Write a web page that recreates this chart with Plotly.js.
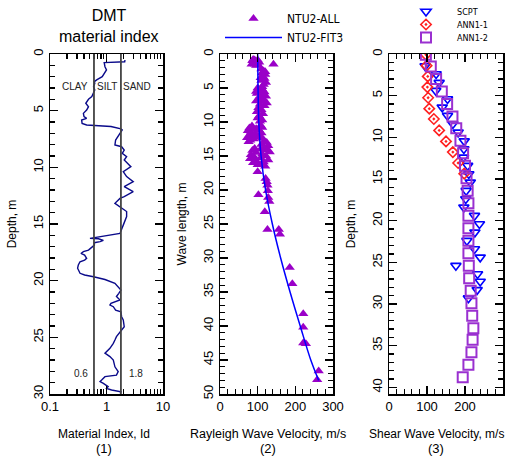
<!DOCTYPE html>
<html><head><meta charset="utf-8">
<script src="https://cdn.plot.ly/plotly-3.0.1.min.js"></script>
<style>html,body{margin:0;padding:0;background:#fff}</style>
</head><body><div id="chart" style="width:512px;height:456px"></div>
<script>
// Panel 1: DMT material index
const idDepth = [0.53,0.68,0.76,1.12,1.41,1.71,2.0,2.29,2.44,2.59,
 2.88,3.18,3.47,3.76,4.0,4.35,4.65,4.94,5.24,5.53,
 5.68,5.82,6.12,6.26,6.4,6.6,6.7,7.0,7.29,7.59,
 8.03,8.18,8.47,8.76,9.06,9.35,9.94,10.38,10.82,11.26,
 11.7,12.15,12.59,12.74,13.18,13.47,13.9,14.35,14.8,15.1,
 15.83,15.9,16.06,16.18,16.27,16.3,16.45,16.56,16.65,16.86,
 17.3,17.44,17.6,17.74,18.03,18.18,18.33,18.62,18.9,19.35,
 19.5,19.65,19.9,20.24,20.53,20.83,21.12,21.4,21.7,22.0,
 22.15,22.3,22.6,22.74,23.18,23.47,24.06,24.35,24.65,24.94,
 25.24,25.53,25.97,26.4,26.7,27.0,27.6,28.03,28.33,28.47,
 28.77,28.9,29.06,29.35,29.5,29.65,29.8,29.95];
const idValue = [2.12,2.1,0.91,0.94,1.0,0.91,0.84,0.67,0.61,0.62,
 0.59,0.62,0.59,0.55,0.48,0.43,0.48,0.445,0.39,0.40,
 0.445,0.363,0.37,0.445,1.2,1.8,1.9,1.73,1.57,1.45,
 1.41,1.85,2.06,1.9,2.27,2.06,2.70,1.98,2.27,2.97,
 2.06,2.97,2.06,1.73,1.41,1.73,2.27,2.27,2.06,1.98,
 1.73,1.41,0.94,0.62,0.51,0.72,0.88,0.77,0.61,0.61,
 0.48,0.39,0.353,0.41,0.445,0.41,0.34,0.317,0.308,0.34,
 0.41,0.59,0.94,1.41,1.61,1.8,1.65,1.5,1.73,1.2,
 1.15,1.32,1.45,1.8,1.85,1.98,2.06,1.85,1.65,1.5,
 1.41,1.32,1.15,0.94,1.15,1.32,1.41,1.61,1.5,0.94,
 0.82,0.77,0.88,1.07,1.0,1.23,1.8,1.75];
const idBoundaries = [0.6, 1.8];
const soilLabels = ['CLAY', 'SILT', 'SAND'];

// Panel 2: Rayleigh wave velocity vs wave length
const ntuDepth = [0.8,0.9,1.0,1.1,1.2,1.3,1.4,1.5,1.6,1.7,1.2,0.9,1.5,1.5,
 2.2,2.5,2.8,3.0,3.3,3.6,3.9,4.2,4.5,4.8,2.6,3.5,
 5.0,5.2,5.4,5.6,5.8,6.0,6.2,6.4,6.6,6.8,7.0,7.2,7.4,7.6,5.5,6.9,
 7.9,8.2,8.5,8.8,9.1,9.4,9.7,9.9,
 10.6,10.9,11.1,11.3,11.5,11.7,11.9,12.1,12.3,12.5,12.7,12.9,11.0,12.2,
 10.5,10.8,11.2,11.6,12.0,12.4,12.8,13.0,13.3,13.5,
 13.9,14.2,14.5,14.8,15.1,15.4,15.7,16.0,16.3,
 13.8,14.1,14.4,14.7,15.0,15.3,15.6,15.9,16.2,16.5,14.0,
 17.3,18.3,18.8,19.3,20.1,20.7,21.1,21.7,23.2,25.8,25.8,26.5,
 31.4,33.8,38.2,40.2,42.5,42.6,46.6,47.9];
const ntuVr = [88,92,86,95,90,98,88,93,100,96,104,100,84,142,
 110,116,112,120,114,118,110,122,116,112,120,108,
 100,112,106,118,98,110,122,104,115,100,112,124,106,118,96,96,
 102,110,98,114,104,100,112,106,
 85,78,90,74,82,94,78,86,72,90,80,76,96,96,
 108,112,104,110,106,112,118,124,110,128,
 92,86,96,82,90,80,96,88,100,
 118,126,132,112,122,108,128,116,110,120,108,
 100,121,124,126,127,102,128,131,119,126,156,159,
 185,192,221,221,221,228,262,258];
const fitDepth = [0,5,10,15,20,25,30,35,40,45,48];
const fitVr = [100,101,103,109,121,139,161,186,213,241,262];

// Panel 3: Shear wave velocity
const scptDepth = [1.44,2.4,3.44,4.4,5.4,6.4,7.4,8.4,9.4,10.45,11.4,12.4,13.4,14.4,15.4,16.4,17.4,18.4,19.4,20.4,21.4,22.4,23.4,24.4,25.4,26.4,27.3,28.3,29.3];
const scptVs = [95,124,132,123,154,140,154,168,182,198,197,196,207,210,214,203,202,197,225,238,226,205,225,240,176,233,240,232,209];
const ann11Depth = [0.08,1.4,2.69,3.97,5.25,6.56,7.8,9.17,10.49,11.77,13.08,14.36];
const ann11Vs = [97,99,102,101,103,106,118,132,150,168,182,198];
const ann12Depth = [0.1,1.5,3.0,4.5,6.0,7.5,8.9,10.4,11.9,13.4,14.9,16.4,17.9,19.4,20.9,22.4,23.9,25.4,26.9,28.4,29.9,31.4,32.9,34.3,35.8,37.3,38.8];
const ann12Vs = [97,110,124,139,153,167,177,188,195,200,204,207,209,209,209,209,209,210,211,215,217,219,222,220,217,209,194];

// Text
const panelTitles = ['Material Index, Id', 'Rayleigh Wave Velocity, m/s', 'Shear Wave Velocity, m/s'];
const panelNumbers = ['(1)', '(2)', '(3)'];

const FONT = 'Liberation Sans, Arial, sans-serif';
const NARROW = 'Liberation Sans Narrow, Arial Narrow, DejaVu Sans Condensed, Liberation Sans, sans-serif';
const W = 512, H = 456;
const yDom = [1 - 394/H, 1 - 54/H];

function axisBase(extra) {
  return Object.assign({
    showline: true, mirror: 'ticks', linecolor: '#000', linewidth: 1.5,
    ticks: 'inside', ticklen: 8, tickwidth: 1.3, tickcolor: '#000',
    showgrid: false, zeroline: false,
    tickfont: {family: FONT, size: 13, color: '#000'}
  }, extra);
}
function minorTicks(dtick) {
  return {ticks: 'inside', ticklen: 5, tickwidth: 1.1, tickcolor: '#000', showgrid: false, dtick: dtick};
}

const traces = [
  {x: idValue, y: idDepth, xaxis: 'x', yaxis: 'y', mode: 'lines', type: 'scatter',
   line: {color: '#0a0a8a', width: 1.4}, showlegend: false, name: 'Id'},
  {x: ntuVr, y: ntuDepth, xaxis: 'x2', yaxis: 'y2', mode: 'markers', type: 'scatter',
   name: 'NTU2-ALL', marker: {symbol: 'triangle-up', size: 9, color: '#9a00c8'}, legend: 'legend'},
  {x: fitVr, y: fitDepth, xaxis: 'x2', yaxis: 'y2', mode: 'lines', type: 'scatter',
   name: 'NTU2-FIT3', line: {color: '#0000ff', width: 1.5, shape: 'spline'}, legend: 'legend'},
  {x: scptVs, y: scptDepth, xaxis: 'x3', yaxis: 'y3', mode: 'markers', type: 'scatter',
   name: 'SCPT', marker: {symbol: 'triangle-down-open', size: 9, color: '#0000ff', line: {width: 1.6}}, legend: 'legend2'},
  {x: ann11Vs, y: ann11Depth, xaxis: 'x3', yaxis: 'y3', mode: 'markers', type: 'scatter',
   name: 'ANN1-1', marker: {symbol: 'diamond-open-dot', size: 8, color: '#ff2020', line: {width: 1.6}}, legend: 'legend2'},
  {x: ann12Vs, y: ann12Depth, xaxis: 'x3', yaxis: 'y3', mode: 'markers', type: 'scatter',
   name: 'ANN1-2', marker: {symbol: 'square-open', size: 10, color: '#9a30d0', line: {width: 2}}, legend: 'legend2'}
];

const shapes = idBoundaries.map(b => ({type: 'line', xref: 'x', yref: 'y domain', x0: b, x1: b, y0: 0, y1: 1,
  line: {color: '#444', width: 1.8}}));

const lg = v => Math.log10(v);
const titleX = [104, 268, 436];
const titleSize = [12, 12.5, 12];
const annotations = [
  {text: 'material index', xref: 'paper', yref: 'paper', x: 109/W, y: 1 - 37/H, showarrow: false,
   font: {family: FONT, size: 16, color: '#000'}, xanchor: 'center', yanchor: 'middle'},
  {text: soilLabels[0], xref: 'x', yref: 'y', x: lg(idBoundaries[0]), y: 2.9, xanchor: 'right', xshift: -4, showarrow: false,
   font: {family: FONT, size: 10, color: '#222'}},
  {text: soilLabels[1], xref: 'x', yref: 'y', x: (lg(idBoundaries[0]) + lg(idBoundaries[1]))/2, y: 2.9, xanchor: 'center', showarrow: false,
   font: {family: FONT, size: 10, color: '#222'}},
  {text: soilLabels[2], xref: 'x', yref: 'y', x: lg(idBoundaries[1]), y: 2.9, xanchor: 'left', xshift: 0, showarrow: false,
   font: {family: FONT, size: 10, color: '#222'}},
  {text: String(idBoundaries[0]), xref: 'x', yref: 'y', x: lg(idBoundaries[0]), y: 28.2, xanchor: 'right', xshift: -4, showarrow: false,
   font: {family: FONT, size: 10, color: '#222'}},
  {text: String(idBoundaries[1]), xref: 'x', yref: 'y', x: lg(idBoundaries[1]), y: 28.2, xanchor: 'left', xshift: 6, showarrow: false,
   font: {family: FONT, size: 10, color: '#222'}}
];
panelTitles.forEach((t, i) => {
  annotations.push({text: t, xref: 'paper', yref: 'paper', x: titleX[i]/W, y: 1 - 434/H, xanchor: 'center', yanchor: 'middle',
    showarrow: false, borderpad: 0, font: {family: FONT, size: titleSize[i], color: '#000'}});
  annotations.push({text: panelNumbers[i], xref: 'paper', yref: 'paper', x: titleX[i]/W, y: 1 - 448/H, xanchor: 'center', yanchor: 'middle',
    showarrow: false, borderpad: 0, font: {family: FONT, size: 13, color: '#000'}});
});

const layout = {
  width: W, height: H, margin: {l: 0, r: 0, t: 0, b: 0},
  paper_bgcolor: '#fff', plot_bgcolor: '#fff',
  font: {family: FONT, color: '#000'},
  title: {text: 'DMT', x: 109/W, xanchor: 'center', y: 1 - 15/H, yanchor: 'middle', font: {family: FONT, size: 16, color: '#000'}},
  xaxis: axisBase({domain: [50/W, 163/W], anchor: 'y', type: 'log', range: [-1, 1], dtick: 1,
    minor: minorTicks('D1')}),
  yaxis: axisBase({domain: yDom, anchor: 'x', range: [30, 0], dtick: 5, tickangle: -90,
    minor: minorTicks(1), title: {text: 'Depth, m', font: {family: FONT, size: 12}, standoff: 12}}),
  xaxis2: axisBase({domain: [220/W, 333/W], anchor: 'y2', range: [0, 300], dtick: 100,
    minor: minorTicks(20)}),
  yaxis2: axisBase({domain: yDom, anchor: 'x2', range: [50, 0], dtick: 5, tickangle: -90,
    minor: minorTicks(1), title: {text: 'Wave length, m', font: {family: FONT, size: 12}, standoff: 12}}),
  xaxis3: axisBase({domain: [389/W, 503/W], anchor: 'y3', range: [0, 300], dtick: 100,
    minor: minorTicks(20)}),
  yaxis3: axisBase({domain: yDom, anchor: 'x3', range: [40.8, 0], dtick: 5, tickangle: -90,
    minor: minorTicks(1), title: {text: 'Depth, m', font: {family: FONT, size: 12}, standoff: 12}}),
  legend: {x: 220/W, xanchor: 'left', y: 1 - 4/H, yanchor: 'top', itemwidth: 57, bgcolor: 'rgba(0,0,0,0)',
    font: {family: NARROW, size: 12, color: '#000'}, traceorder: 'normal'},
  legend2: {x: 395/W, xanchor: 'left', y: 1, yanchor: 'top', itemwidth: 52, bgcolor: 'rgba(0,0,0,0)',
    font: {family: NARROW, size: 9, color: '#000'}, traceorder: 'normal'},
  shapes: shapes,
  annotations: annotations
};

Plotly.newPlot('chart', traces, layout, {displayModeBar: false, staticPlot: true}).then(() => {
  // tighten the row spacing of the small panel-3 legend to match the original
  const items = document.querySelectorAll('g.legend2 g.traces');
  let base = null;
  items.forEach((el, i) => {
    const m = /translate\(\s*([-\d.]+)[ ,]+([-\d.]+)\s*\)/.exec(el.getAttribute('transform') || '');
    if (!m) return;
    if (base === null) base = parseFloat(m[2]);
    el.setAttribute('transform', 'translate(' + m[1] + ',' + (base - 3 + i * 13) + ')');
  });
});
</script>
</body></html>
